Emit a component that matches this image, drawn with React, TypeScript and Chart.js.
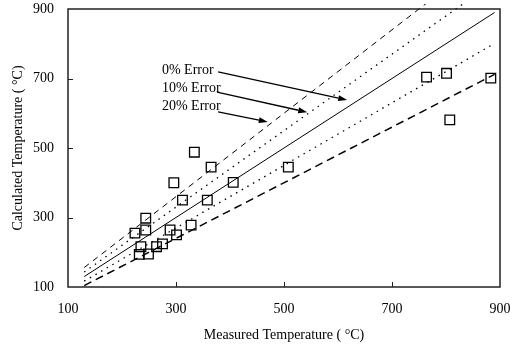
import React, { useEffect, useRef } from "react";
import { Chart, registerables } from "chart.js";

Chart.register(...registerables);

// Measured vs calculated temperatures (°C)
const measured = [224, 232, 235, 244, 244, 249, 264, 275, 289, 296, 301, 312, 328, 334, 358, 365, 406, 508, 764, 801, 807, 883];
const calculated = [255, 194, 216, 298, 264, 195, 216, 224, 264, 400, 250, 350, 278, 488, 350, 445, 401, 445, 704, 715, 581, 701];

// Error reference lines: y = x * (1 + error)
const errorLineX = [130, 890];
const errorLevels = [0, 0.1, -0.1, 0.2, -0.2];

// Axis ticks
const axisTicks = [100, 300, 500, 700, 900];
const innerTicks = [300, 500, 700];

// Annotations (data coordinates)
const annotationLabels = ["0% Error", "10% Error", "20% Error"];
const labelX = [274, 274, 274];
const labelY = [713, 660, 609];
const arrowTailX = [378, 376, 378];
const arrowTailY = [719, 661, 604];
const arrowHeadX = [617, 543, 470];
const arrowHeadY = [638, 603, 575];

const FONT = "'Liberation Serif', 'Times New Roman', serif";

const zeroPad = (s: any) => {
  s.paddingTop = 0;
  s.paddingBottom = 0;
  s.paddingLeft = 0;
  s.paddingRight = 0;
};

export default function App() {
  const ref = useRef<HTMLCanvasElement>(null);

  useEffect(() => {
    const canvas = ref.current!;

    const lineStyle = (lvl: number) => {
      const a = Math.abs(lvl);
      if (a === 0) return { borderWidth: 1, borderDash: [] as number[] };
      if (a === 0.1) return { borderWidth: 1.3, borderDash: [1.5, 5] };
      if (lvl > 0) return { borderWidth: 1, borderDash: [6, 5] };
      return { borderWidth: 1.5, borderDash: [8, 5] };
    };

    const lineSets = errorLevels.map((lvl) => ({
      type: "line" as const,
      label: `${Math.round(lvl * 100)}%`,
      data: errorLineX.map((x) => ({ x, y: x * (1 + lvl) })),
      borderColor: "#000",
      ...lineStyle(lvl),
      pointRadius: 0,
      fill: false,
      tension: 0,
      clip: { left: 0, top: 5, right: 0, bottom: 0 },
      order: 2,
    }));

    const frame = {
      id: "frameAndNotes",
      afterDatasetsDraw(chart: any) {
        const { ctx, chartArea: a, scales } = chart;
        const xs = scales.x;
        const ys = scales.y;
        ctx.save();
        ctx.strokeStyle = "#222";
        ctx.lineWidth = 1.5;
        ctx.strokeRect(a.left, a.top, a.right - a.left, a.bottom - a.top);
        ctx.lineWidth = 1;
        ctx.beginPath();
        innerTicks.forEach((t) => {
          const px = Math.round(xs.getPixelForValue(t)) + 0.5;
          ctx.moveTo(px, a.bottom);
          ctx.lineTo(px, a.bottom - 5);
          const py = Math.round(ys.getPixelForValue(t)) + 0.5;
          ctx.moveTo(a.left, py);
          ctx.lineTo(a.left + 5, py);
        });
        ctx.stroke();

        // annotations
        ctx.fillStyle = "#000";
        ctx.strokeStyle = "#000";
        ctx.font = `14px ${FONT}`;
        ctx.textAlign = "left";
        ctx.textBaseline = "alphabetic";
        annotationLabels.forEach((lab, i) => {
          ctx.fillText(lab, xs.getPixelForValue(labelX[i]), ys.getPixelForValue(labelY[i]));
          const x0 = xs.getPixelForValue(arrowTailX[i]);
          const y0 = ys.getPixelForValue(arrowTailY[i]);
          const x1 = xs.getPixelForValue(arrowHeadX[i]);
          const y1 = ys.getPixelForValue(arrowHeadY[i]);
          const ang = Math.atan2(y1 - y0, x1 - x0);
          const hl = 9;
          const hw = 3;
          const bx = x1 - hl * Math.cos(ang);
          const by = y1 - hl * Math.sin(ang);
          ctx.lineWidth = 1.3;
          ctx.beginPath();
          ctx.moveTo(x0, y0);
          ctx.lineTo(bx, by);
          ctx.stroke();
          ctx.beginPath();
          ctx.moveTo(x1, y1);
          ctx.lineTo(bx + hw * Math.sin(ang), by - hw * Math.cos(ang));
          ctx.lineTo(bx - hw * Math.sin(ang), by + hw * Math.cos(ang));
          ctx.closePath();
          ctx.fill();
        });
        ctx.restore();
      },
    };

    const chart = new Chart(canvas, {
      type: "scatter",
      data: {
        datasets: [
          {
            type: "scatter" as const,
            label: "Data",
            data: measured.map((x, i) => ({ x, y: calculated[i] })),
            pointStyle: "rect",
            pointRadius: 6.8,
            pointBorderWidth: 1.3,
            pointBorderColor: "#000",
            pointBackgroundColor: "rgba(0,0,0,0)",
            order: 1,
          },
          ...lineSets,
        ] as any,
      },
      options: {
        responsive: false,
        animation: false,
        devicePixelRatio: 1,
        layout: { padding: { top: 9, right: 17, left: 0, bottom: 0 } },
        plugins: { legend: { display: false }, tooltip: { enabled: false } },
        scales: {
          x: {
            type: "linear",
            min: 100,
            max: 900,
            afterBuildTicks: (s: any) => {
              s.ticks = axisTicks.map((v) => ({ value: v }));
            },
            afterFit: (s: any) => {
              s.height = 62;
              zeroPad(s);
            },
            grid: { display: false, drawTicks: false },
            border: { display: false },
            ticks: { color: "#000", font: { family: FONT, size: 14 }, padding: 13.5, maxRotation: 0 },
            title: {
              display: true,
              text: "Measured Temperature ( °C)",
              color: "#000",
              font: { family: FONT, size: 14 },
              padding: { top: 0, bottom: 5.5 },
            },
          },
          y: {
            type: "linear",
            min: 100,
            max: 900,
            afterBuildTicks: (s: any) => {
              s.ticks = axisTicks.map((v) => ({ value: v }));
            },
            afterFit: (s: any) => {
              s.width = 68;
              zeroPad(s);
            },
            grid: { display: false, drawTicks: false },
            border: { display: false },
            ticks: { color: "#000", font: { family: FONT, size: 14 }, padding: 14 },
            title: {
              display: true,
              text: "Calculated Temperature ( °C)",
              color: "#000",
              font: { family: FONT, size: 14 },
              padding: { top: 9.5, bottom: 0 },
            },
          },
        },
      },
      plugins: [frame],
    });

    return () => chart.destroy();
  }, []);

  return (
    <div style={{ position: "fixed", left: 0, top: 0, width: 517, height: 349, background: "#fff" }}>
      <canvas ref={ref} width={517} height={349} style={{ display: "block", width: 517, height: 349 }} />
    </div>
  );
}
